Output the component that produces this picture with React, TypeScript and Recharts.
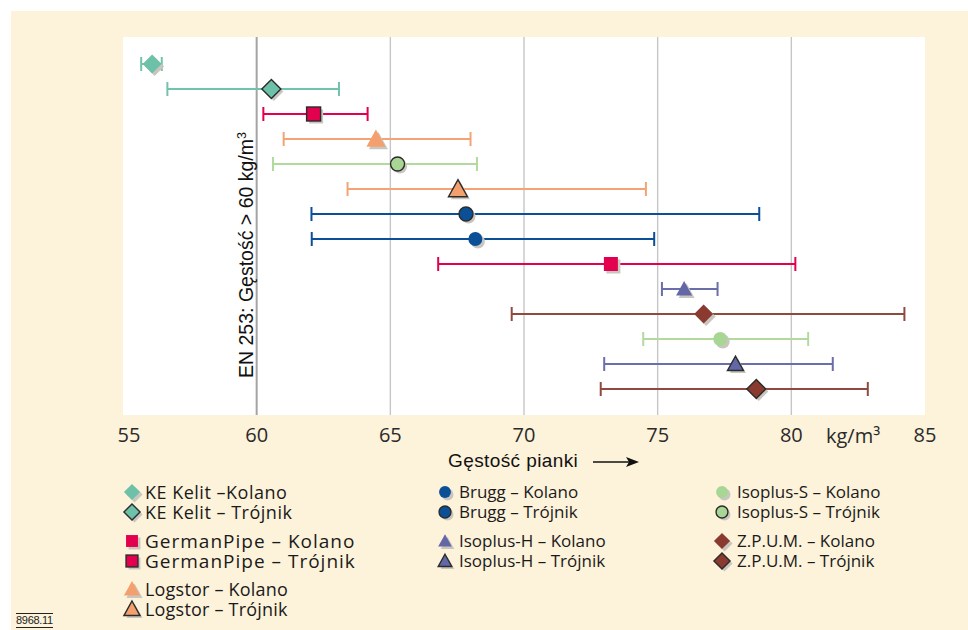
import React from "react";
import { ComposedChart, Scatter, XAxis, YAxis, ErrorBar, ReferenceLine, ReferenceArea } from "recharts";

// ---- data (chart rows, top to bottom) ----
const rowMakers = [
  "KE Kelit", "KE Kelit", "GermanPipe", "Logstor", "Isoplus-S", "Logstor", "Brugg",
  "Brugg", "GermanPipe", "Isoplus-H", "Z.P.U.M.", "Isoplus-S", "Isoplus-H", "Z.P.U.M.",
];
const rowVariants = [
  "Kolano", "Trójnik", "Trójnik", "Kolano", "Trójnik", "Trójnik", "Trójnik",
  "Kolano", "Kolano", "Kolano", "Kolano", "Kolano", "Trójnik", "Trójnik",
];
const meanValues = [56.09, 60.55, 62.13, 64.46, 65.27, 67.53, 67.83, 68.18, 73.25, 75.99, 76.72, 77.34, 77.91, 78.69];
const lowValues = [55.68, 56.66, 60.25, 61.01, 60.61, 63.4, 62.05, 62.06, 66.79, 75.16, 69.54, 74.46, 73.0, 72.87];
const highValues = [56.45, 63.08, 64.15, 68.0, 68.24, 74.56, 78.8, 74.87, 80.15, 77.24, 84.23, 80.63, 81.55, 82.86];

const xTicks = [55, 60, 65, 70, 75, 80, 85];
const gridValues = [65, 70, 75, 80];
const limitValue = 60;

const legendColumns = [
  ["KE Kelit", "GermanPipe", "Logstor"],
  ["Brugg", "Isoplus-H"],
  ["Isoplus-S", "Z.P.U.M."],
];
const legendDash: Record<string, string> = { "KE Kelit": " –" };

// ---- styles ----
const makerStyle: Record<string, { fill: string; line: string; shape: string }> = {
  "KE Kelit": { fill: "#6cc1a8", line: "#72c3ab", shape: "diamond" },
  GermanPipe: { fill: "#e2004f", line: "#e2004f", shape: "square" },
  Logstor: { fill: "#f4a06e", line: "#f4a474", shape: "triangle" },
  Brugg: { fill: "#0b4f96", line: "#0b4f96", shape: "circle" },
  "Isoplus-H": { fill: "#6367a6", line: "#6a6eaa", shape: "triangle" },
  "Isoplus-S": { fill: "#a8d694", line: "#b2da9f", shape: "circle" },
  "Z.P.U.M.": { fill: "#8a3a2e", line: "#8f4a40", shape: "diamond" },
};
const legendFont: Record<string, { fs: number; ls: number }> = {
  "KE Kelit": { fs: 18, ls: 0.5 },
  GermanPipe: { fs: 19, ls: 1.0 },
  Logstor: { fs: 18, ls: 0.2 },
};

const triSize: Record<string, number> = { Logstor: 19, "Isoplus-H": 16 };

function drawShape(shape: string, cx: number, cy: number, fill: string, stroke: string, sw: number, scale: number, tri: number) {
  if (shape === "diamond") {
    const r = 9.5 * scale;
    return <polygon points={`${cx},${cy - r} ${cx + r},${cy} ${cx},${cy + r} ${cx - r},${cy}`} fill={fill} stroke={stroke} strokeWidth={sw} />;
  }
  if (shape === "square") {
    const h = 7 * scale;
    return <rect x={cx - h} y={cy - h} width={2 * h} height={2 * h} fill={fill} stroke={stroke} strokeWidth={sw} />;
  }
  if (shape === "triangle") {
    const w = tri * scale;
    const h = w * 0.9;
    return <polygon points={`${cx},${cy - h * 0.55} ${cx + w / 2},${cy + h * 0.45} ${cx - w / 2},${cy + h * 0.45}`} fill={fill} stroke={stroke} strokeWidth={sw} />;
  }
  const r = 7 * scale;
  return <circle cx={cx} cy={cy} r={r} fill={fill} stroke={stroke} strokeWidth={sw} />;
}

function Marker({ maker, variant, cx, cy, scale = 1 }: any) {
  const st = makerStyle[maker];
  const bordered = variant === "Trójnik";
  const tri = triSize[maker] || 16;
  return (
    <g>
      {drawShape(st.shape, cx + 2.5, cy + 2.5, "#c9c6c0", "none", 0, scale, tri)}
      {drawShape(st.shape, cx, cy, st.fill, bordered ? "#2b2b2b" : "none", bordered ? 1.4 : 0, scale, tri)}
    </g>
  );
}

const rows = meanValues.map((m, i) => ({
  x: m,
  y: i + 1,
  err: [m - lowValues[i], highValues[i] - m],
  maker: rowMakers[i],
  variant: rowVariants[i],
}));

const TickLabel = (props: any) => {
  const { x, y, payload } = props;
  const dx = payload.value === 55 ? 6 : 0;
  return (
    <text x={x + dx} y={y} dy="0.71em" textAnchor="middle" fontFamily="'Open Sans', sans-serif" fontSize={20} fill="#2a2a2a">
      {payload.value}
    </text>
  );
};

const legendTop = [492, 541, 589];
const legendMarkerX = [132, 445, 722];
const legendTextX = [145, 459, 737];

export default function App() {
  return (
    <div style={{ position: "absolute", left: 0, top: 0, width: 968, height: 630, background: "#ffffff", overflow: "hidden" }}>
      <div style={{ position: "absolute", left: 11, top: 11, width: 957, height: 619, background: "#fdf2da" }} />
      <div style={{ position: "absolute", left: 0, top: 0 }}>
        <ComposedChart width={968} height={630} margin={{ top: 37, right: 43, bottom: 185, left: 123 }}>
          <XAxis
            type="number"
            dataKey="x"
            domain={[55, 85]}
            ticks={xTicks}
            allowDataOverflow
            axisLine={false}
            tickLine={false}
            tickSize={0}
            tickMargin={13}
            height={30}
            tick={<TickLabel />}
          />
          <YAxis type="number" dataKey="y" domain={[-0.08, 15.04]} reversed hide allowDataOverflow width={0} />
          <ReferenceArea x1={55} x2={85} fill="#ffffff" fillOpacity={1} stroke="none" ifOverflow="hidden" />
          {gridValues.map((v) => (
            <ReferenceLine key={v} x={v} stroke="#c6c6c6" strokeWidth={1.4} />
          ))}
          <ReferenceLine x={limitValue} stroke="#a4a4a4" strokeWidth={2} />
          {rows.map((r, i) => (
            <Scatter
              key={i}
              data={[r]}
              isAnimationActive={false}
              shape={(p: any) => <Marker maker={r.maker} variant={r.variant} cx={p.cx} cy={p.cy} />}
            >
              <ErrorBar dataKey="err" direction="x" width={7} stroke={makerStyle[r.maker].line} strokeWidth={2} isAnimationActive={false} />
            </Scatter>
          ))}
        </ComposedChart>
      </div>

      {/* vertical EN 253 label */}
      <div
        style={{
          position: "absolute",
          left: 244,
          top: 255,
          transform: "translate(-50%, -50%) rotate(-90deg)",
          whiteSpace: "nowrap",
          fontFamily: "'Liberation Sans', Arial, sans-serif",
          fontSize: 19.5,
          lineHeight: "22px",
          color: "#111",
        }}
      >
        EN 253: Gęstość &gt; 60 kg/m<sup style={{ fontSize: 12.5 }}>3</sup>
      </div>

      {/* unit */}
      <div style={{ position: "absolute", left: 826, top: 422, fontFamily: "'Open Sans', sans-serif", fontSize: 20, color: "#2a2a2a", whiteSpace: "nowrap" }}>
        kg/m³
      </div>

      {/* axis title */}
      <div style={{ position: "absolute", left: 448, top: 450, fontFamily: "'Liberation Sans', Arial, sans-serif", fontSize: 19, letterSpacing: 0.4, color: "#111", whiteSpace: "nowrap" }}>
        Gęstość pianki
      </div>
      <svg style={{ position: "absolute", left: 590, top: 455 }} width={52} height={14}>
        <line x1={3} y1={7} x2={40} y2={7} stroke="#111" strokeWidth={1.5} />
        <polygon points="36,2 49,7 36,12 39,7" fill="#111" />
      </svg>

      {/* legend */}
      {legendColumns.map((col, c) =>
        col.map((maker, g) =>
          ["Kolano", "Trójnik"].map((variant, k) => {
            const yc = legendTop[g] + k * 19.5;
            const dash = k === 0 && legendDash[maker] ? legendDash[maker] : " – ";
            const f = legendFont[maker] || { fs: 17, ls: 0 };
            return (
              <React.Fragment key={`${c}-${g}-${k}`}>
                <svg style={{ position: "absolute", left: legendMarkerX[c] - 11, top: yc - 11 }} width={24} height={24}>
                  <Marker maker={maker} variant={variant} cx={11} cy={11} scale={0.85} />
                </svg>
                <div
                  style={{
                    position: "absolute",
                    left: legendTextX[c],
                    top: yc - 8,
                    lineHeight: "16px",
                    height: 16,
                    fontFamily: "'Open Sans', sans-serif",
                    fontSize: f.fs,
                    letterSpacing: f.ls,
                    color: "#1a1a1a",
                    whiteSpace: "pre",
                  }}
                >
                  {maker}
                  {dash}
                  {variant}
                </div>
              </React.Fragment>
            );
          })
        )
      )}

      {/* figure number */}
      <div
        style={{
          position: "absolute",
          left: 16,
          top: 613,
          fontFamily: "'Liberation Sans Narrow', 'Liberation Sans', sans-serif",
          fontSize: 11,
          lineHeight: "13px",
          color: "#222",
          borderTop: "1px solid #222",
          borderBottom: "1px solid #222",
          letterSpacing: -0.3,
        }}
      >
        8968.11
      </div>
    </div>
  );
}
